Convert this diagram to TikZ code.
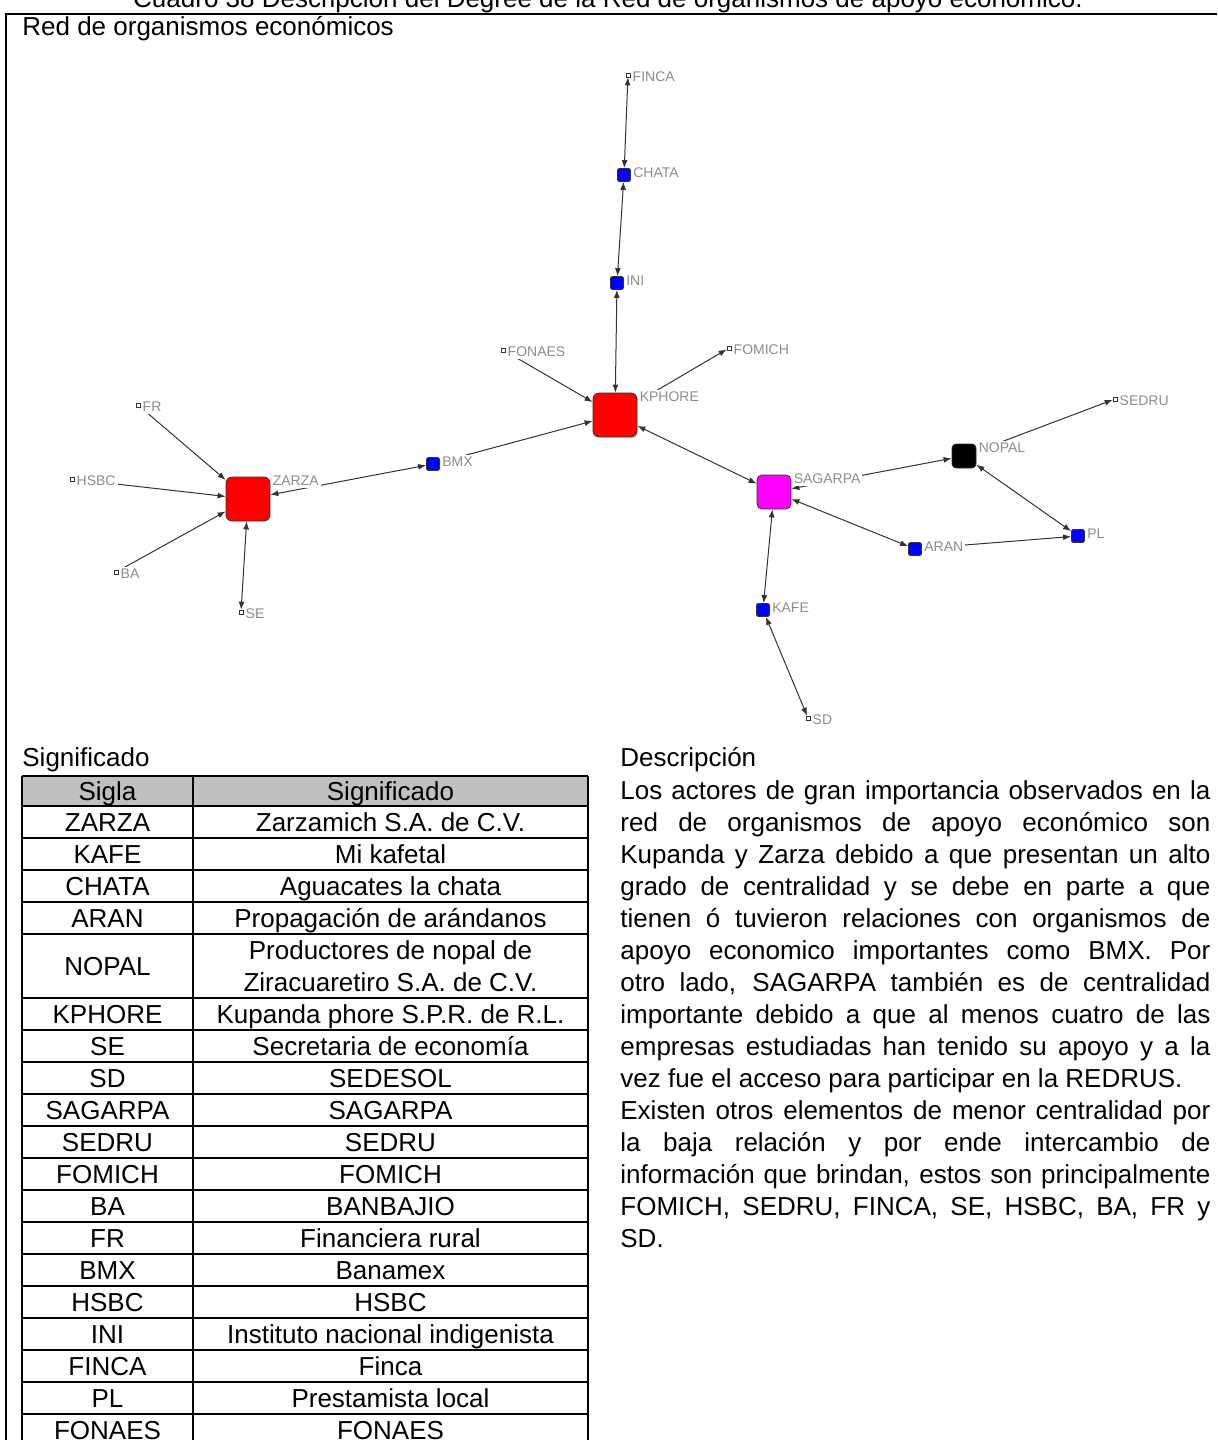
\documentclass[tikz,border=0pt]{standalone}
\usepackage{fontspec}
\setmainfont{Liberation Sans}
\usepackage{tikz}
\usetikzlibrary{arrows.meta, backgrounds}
\definecolor{orgred}{HTML}{FF0000}
\definecolor{orgblue}{HTML}{0000FF}
\definecolor{orgmagenta}{HTML}{FF00FF}
\definecolor{tagtext}{HTML}{8C8C8C}
\definecolor{headgray}{HTML}{C0C0C0}
\setlength{\parindent}{0pt}
\hyphenpenalty=10000

\begin{document}
\begin{tikzpicture}[
    x=0.5pt, y=-0.5pt,
    bodytext/.style={font=\fontsize{13}{16}\selectfont},
    orgnode/.style={rectangle, draw=black!80, line width=0.4pt, inner sep=0pt},
    hubnode/.style={orgnode, minimum size=22pt, rounded corners=3pt, fill=orgred},
    firmnode/.style={orgnode, minimum size=6.5pt, rounded corners=1pt, fill=orgblue},
    leafnode/.style={orgnode, minimum size=2pt, fill=white, line width=0.3pt},
    tag/.style={anchor=north west, yshift=1.5pt, fill=white, text=tagtext, inner sep=1pt, font=\fontsize{7}{8}\selectfont},
    link/.style={draw=black!80, line width=0.5pt},
    oneway/.style={link, -{Latex[length=4pt, width=3pt]}},
    twoway/.style={link, {Latex[length=4pt, width=3pt]}-{Latex[length=4pt, width=3pt]}},
    tabcell/.style={bodytext, anchor=base, inner sep=0pt},
    tabline/.style={line width=0.9pt}
]
\useasboundingbox (0,0) rectangle (1217,1440);

\node[bodytext, anchor=base] (title) at (608,8) {Cuadro 38 Descripción del Degree de la Red de organismos de apoyo económico.};
\draw[line width=1pt] (1217,14) -- (6,14) -- (6,1440);
\node[bodytext, anchor=base west, inner sep=0pt] (nettitle) at (22,35) {Red de organismos económicos};

% network
\node[hubnode, label={[tag]above right:KPHORE}] (kphore) at (615,415) {};
\node[hubnode, label={[tag]above right:ZARZA}] (zarza) at (248,499) {};
\node[orgnode, minimum size=17pt, rounded corners=2.5pt, fill=orgmagenta, label={[tag]above right:SAGARPA}] (sagarpa) at (774,492) {};
\node[orgnode, minimum size=12pt, rounded corners=2pt, fill=black, label={[tag]above right:NOPAL}] (nopal) at (964,456) {};

\node[firmnode, label={[tag]above right:CHATA}] (chata) at (624,175) {};
\node[firmnode, label={[tag]above right:INI}] (ini) at (617,283) {};
\node[firmnode, label={[tag]above right:BMX}] (bmx) at (433,464) {};
\node[firmnode, label={[tag]above right:PL}] (pl) at (1078,536) {};
\node[firmnode, label={[tag]above right:ARAN}] (aran) at (915,549) {};
\node[firmnode, label={[tag]above right:KAFE}] (kafe) at (763,610) {};

\node[leafnode, label={[tag]above right:FINCA}] (finca) at (628,75) {};
\node[leafnode, label={[tag]above right:FONAES}] (fonaes) at (503,350) {};
\node[leafnode, label={[tag]above right:FOMICH}] (fomich) at (729,348) {};
\node[leafnode, label={[tag]above right:FR}] (fr) at (138,405) {};
\node[leafnode, label={[tag]above right:HSBC}] (hsbc) at (72,479) {};
\node[leafnode, label={[tag]above right:BA}] (ba) at (116,572) {};
\node[leafnode, label={[tag]above right:SE}] (se) at (241,612) {};
\node[leafnode, label={[tag]above right:SEDRU}] (sedru) at (1115,399) {};
\node[leafnode, label={[tag]above right:SD}] (sd) at (808,718) {};

\begin{scope}[on background layer]
\draw[twoway] (finca) -- (chata);
\draw[twoway] (chata) -- (ini);
\draw[twoway] (ini) -- (kphore);
\draw[oneway] (fonaes) -- (kphore);
\draw[twoway] (kphore) -- (fomich);
\draw[twoway] (bmx) -- (kphore);
\draw[twoway] (zarza) -- (bmx);
\draw[oneway] (fr) -- (zarza);
\draw[oneway] (hsbc) -- (zarza);
\draw[oneway] (ba) -- (zarza);
\draw[twoway] (zarza) -- (se);
\draw[twoway] (kphore) -- (sagarpa);
\draw[twoway] (sagarpa) -- (nopal);
\draw[twoway] (nopal) -- (sedru);
\draw[twoway] (nopal) -- (pl);
\draw[twoway] (sagarpa) -- (aran);
\draw[twoway] (aran) -- (pl);
\draw[twoway] (sagarpa) -- (kafe);
\draw[twoway] (kafe) -- (sd);
\end{scope}

% table
\node[bodytext, anchor=base west, inner sep=0pt] (tabtitle) at (22,766) {Significado};
\fill[headgray] (22,776) rectangle (588,806);
\foreach \yy in {776,806,838,870,902,934} \draw[tabline] (22,\yy) -- (588,\yy);
\foreach \k in {0,...,14} \draw[tabline] (22,998+32*\k) -- (588,998+32*\k);
\foreach \xx in {22,193,588} \draw[tabline] (\xx,776) -- (\xx,1446);
\node[tabcell] (hsig) at (107.5,800) {Sigla};
\node[tabcell] (hsgn) at (390.5,800) {Significado};
\foreach \sig/\txt [count=\i from 0] in {ZARZA/Zarzamich S.A. de C.V., KAFE/Mi kafetal, CHATA/Aguacates la chata, ARAN/Propagación de arándanos}
{
    \node[tabcell] (s\sig) at (107.5,831+32*\i) {\sig};
    \node[tabcell] (m\sig) at (390.5,831+32*\i) {\txt};
}
\node[tabcell] (sNOPAL) at (107.5,975) {NOPAL};
\node[bodytext, align=center, inner sep=0pt] (mNOPAL) at (390.5,966) {Productores de nopal de\\Ziracuaretiro S.A. de C.V.};
\foreach \sig/\txt [count=\i from 0] in {KPHORE/Kupanda phore S.P.R. de R.L., SE/Secretaria de economía, SD/SEDESOL, SAGARPA/SAGARPA, SEDRU/SEDRU, FOMICH/FOMICH, BA/BANBAJIO, FR/Financiera rural, BMX/Banamex, HSBC/HSBC, INI/Instituto nacional indigenista, FINCA/Finca, PL/Prestamista local, FONAES/FONAES}
{
    \node[tabcell] (s\sig) at (107.5,1023+32*\i) {\sig};
    \node[tabcell] (m\sig) at (390.5,1023+32*\i) {\txt};
}

% description
\node[bodytext, anchor=base west, inner sep=0pt] (desctitle) at (620,766) {Descripción};
\node[bodytext, anchor=north west, text width=295pt, align=justify, inner sep=0pt] (desc) at (620,780.5) {Los actores de gran importancia observados en la\linebreak red de organismos de apoyo económico son\linebreak Kupanda y Zarza debido a que presentan un alto\linebreak grado de centralidad y se debe en parte a que\linebreak tienen ó tuvieron relaciones con organismos de\linebreak apoyo economico importantes como BMX. Por\linebreak otro lado, SAGARPA también es de centralidad\linebreak importante debido a que al menos cuatro de las\linebreak empresas estudiadas han tenido su apoyo y a la\linebreak vez fue el acceso para participar en la REDRUS.\par Existen otros elementos de menor centralidad por\linebreak la baja relación y por ende intercambio de\linebreak información que brindan, estos son principalmente\linebreak FOMICH, SEDRU, FINCA, SE, HSBC, BA, FR y\linebreak SD.};

\end{tikzpicture}
\end{document}
